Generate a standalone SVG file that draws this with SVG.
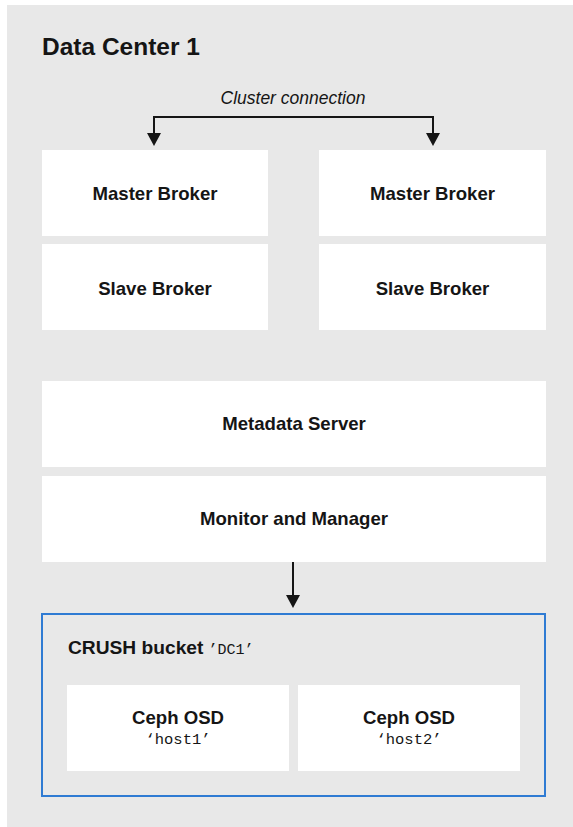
<svg xmlns="http://www.w3.org/2000/svg" width="573" height="827" viewBox="0 0 573 827">
<style>
.box{fill:#ffffff}
.lbl{font-family:"Liberation Sans",Arial,sans-serif;font-weight:bold;font-size:18.6px;fill:#151515;text-anchor:middle}
.mono{font-family:"Liberation Mono","DejaVu Sans Mono",monospace;font-size:15.5px;fill:#151515}
.conn{stroke:#151515;stroke-width:2;fill:none}
.head{fill:#151515}
</style>
<rect x="7" y="5" width="566" height="822" fill="#e8e8e8"/>
<text x="42" y="55" font-family="Liberation Sans,Arial,sans-serif" font-weight="bold" font-size="24.5" fill="#151515">Data Center 1</text>
<text x="293" y="104" font-family="Liberation Sans,Arial,sans-serif" font-style="italic" font-size="17.5" fill="#151515" text-anchor="middle">Cluster connection</text>

<g id="connectors">
<polyline class="conn" points="154,134 154,117 433,117 433,134"/>
<path class="head" d="M147,133 L161,133 L154,146 Z"/>
<path class="head" d="M426,133 L440,133 L433,146 Z"/>
<line class="conn" x1="293" y1="562" x2="293" y2="596"/>
<path class="head" d="M286,595 L300,595 L293,608 Z"/>
</g>

<g id="master1"><rect class="box" x="42" y="150" width="226" height="86"/><text class="lbl" x="155" y="200">Master Broker</text></g>
<g id="slave1"><rect class="box" x="42" y="244" width="226" height="86"/><text class="lbl" x="155" y="295">Slave Broker</text></g>
<g id="master2"><rect class="box" x="319" y="150" width="227" height="86"/><text class="lbl" x="432.5" y="200">Master Broker</text></g>
<g id="slave2"><rect class="box" x="319" y="244" width="227" height="86"/><text class="lbl" x="432.5" y="295">Slave Broker</text></g>
<g id="metadata"><rect class="box" x="42" y="381" width="504" height="86"/><text class="lbl" x="294" y="430">Metadata Server</text></g>
<g id="monitor"><rect class="box" x="42" y="476" width="504" height="86"/><text class="lbl" x="294" y="525">Monitor and Manager</text></g>

<g id="crush">
<rect x="42" y="614" width="503" height="182" fill="none" stroke="#2f7bd3" stroke-width="2"/>
<text x="68" y="654" font-family="Liberation Sans,Arial,sans-serif" font-weight="bold" font-size="19.2" fill="#151515">CRUSH bucket<tspan font-family="Liberation Mono,DejaVu Sans Mono,monospace" font-weight="normal" font-size="15" dx="5">’DC1’</tspan></text>
</g>
<g id="osd1"><rect class="box" x="67" y="685" width="222" height="86"/><text class="lbl" x="178" y="724">Ceph OSD</text><text class="mono" x="178" y="744" text-anchor="middle">‘host1’</text></g>
<g id="osd2"><rect class="box" x="298" y="685" width="222" height="86"/><text class="lbl" x="409" y="724">Ceph OSD</text><text class="mono" x="409" y="744" text-anchor="middle">‘host2’</text></g>
</svg>
